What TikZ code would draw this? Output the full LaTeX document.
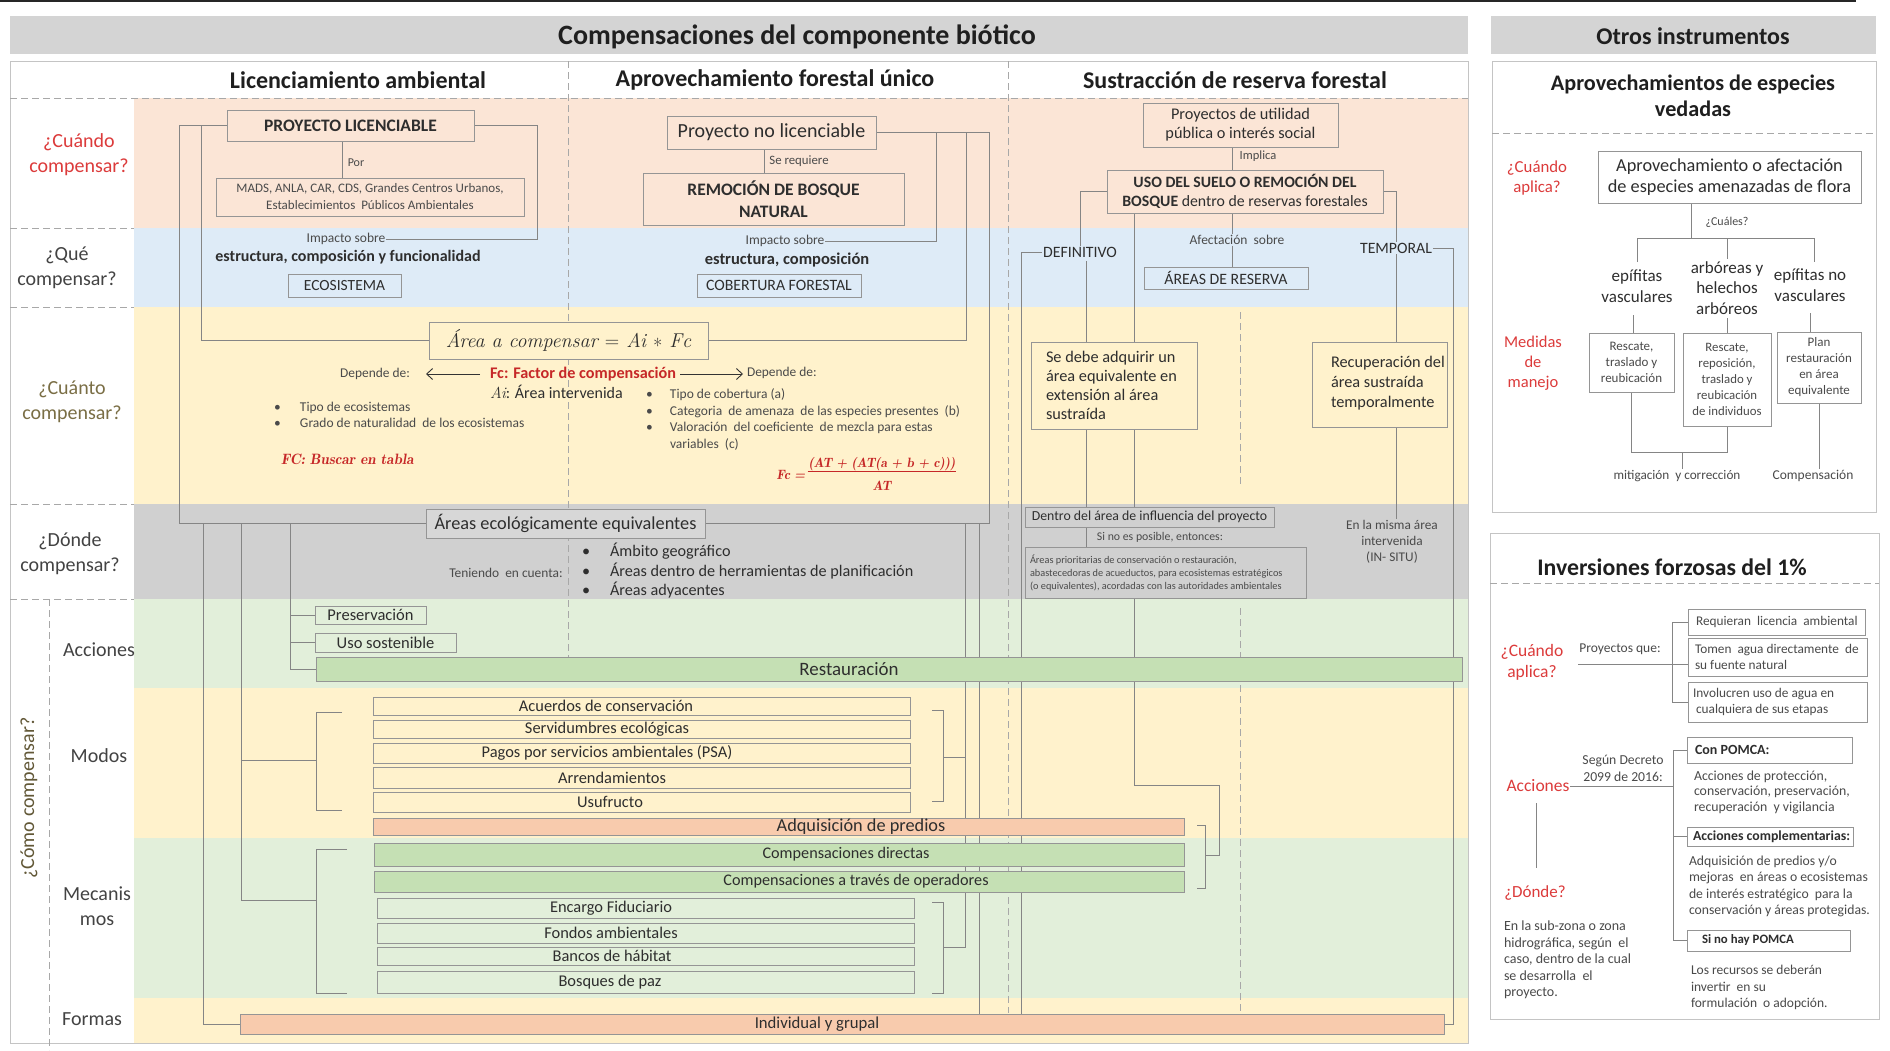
\documentclass[tikz,border=0pt]{standalone}
\usepackage{fontspec}
\setmainfont{Carlito}
\usetikzlibrary{arrows.meta}
\definecolor{peachbg}{HTML}{FBE5D6}
\definecolor{bluebg}{HTML}{DEEBF7}
\definecolor{yelbg}{HTML}{FFF2CC}
\definecolor{graybg}{HTML}{D0D0D0}
\definecolor{grnbg}{HTML}{E2EFDA}
\definecolor{grnbar}{HTML}{C5E0B4}
\definecolor{salbar}{HTML}{F8CBAD}
\definecolor{titlegray}{HTML}{D4D4D4}
\definecolor{boxline}{HTML}{959595}
\definecolor{linegray}{HTML}{858585}
\definecolor{dashgray}{HTML}{A8A8A8}
\definecolor{framec}{HTML}{C4C4C4}
\definecolor{redlbl}{HTML}{DC3B3B}
\definecolor{fcred}{HTML}{C62828}
\definecolor{olivelbl}{HTML}{7A6E45}
\definecolor{txtdk}{HTML}{2E2E2E}
\definecolor{txtmid}{HTML}{4A4A4A}
\pgfdeclarelayer{bands}
\pgfdeclarelayer{lines}
\pgfsetlayers{bands,lines,main}
\newcommand\fs[2]{\fontsize{#1}{#2}\selectfont}
\newcommand\bx[7][]{\node[bxs,minimum width={(#5-#3)*1pt},minimum height={(#6-#4)*1pt},#1] (#2) at ({(#3+#5)/2},{(#4+#6)/2}) {#7};}
\newcommand\bul[1]{\makebox[#1][l]{\textbullet}}
\newcommand\lmit{\fontfamily{lmr}\selectfont\itshape}
\begin{document}
\begin{tikzpicture}[x=1pt,y=-1pt,
  bxs/.style={draw=boxline,line width=0.7pt,inner sep=0pt,outer sep=0pt,align=center,text=txtdk},
  ln/.style={draw=linegray,line width=0.8pt},
  dsh/.style={draw=dashgray,line width=0.8pt,dash pattern=on 7pt off 4pt},
  tx/.style={inner sep=1pt,outer sep=0pt,align=center,text=txtdk},
  sm/.style={tx,font=\fs{13}{15},text=txtmid},
  rowl/.style={tx,font=\fs{20}{25},text=txtdk!90!white},
  hdr/.style={tx,font=\fs{24}{28}\bfseries,text=black!88},
  bartx/.style={tx,font=\fs{16.4}{19},text=txtdk},
  arr/.style={draw=black!80,line width=0.9pt,-{Straight Barb[length=6pt,width=11pt]}}
]
\useasboundingbox (0,0) rectangle (1890,1050);
\begin{pgfonlayer}{bands}
\fill[white] (0,0) rectangle (1890,1050);
\draw[black!85,line width=1.6pt] (0,1) -- (1856,1);
\fill[titlegray] (10,16) rectangle (1468,54);
\fill[titlegray] (1491,16) rectangle (1876,54);
\fill[peachbg] (134,98) rectangle (1468,228);
\fill[bluebg] (134,228) rectangle (1468,307);
\fill[yelbg] (134,307) rectangle (1468,504);
\fill[graybg] (134,504) rectangle (1468,599);
\fill[grnbg] (134,599) rectangle (1468,688);
\fill[yelbg] (134,688) rectangle (1468,838);
\fill[grnbg] (134,838) rectangle (1468,998);
\fill[yelbg] (134,998) rectangle (1468,1043);
\draw[framec,line width=0.8pt] (10,61) rectangle (1468,1043);
\draw[framec,line width=0.8pt] (1492,61) rectangle (1876,512);
\draw[framec,line width=0.8pt] (1490,533) rectangle (1879,1019);
\draw[dsh] (10,98) -- (1468,98);
\foreach \yy in {228,307,504,599} {\draw[dsh] (10,\yy) -- (134,\yy);}
\draw[dsh] (568,61) -- (568,657);
\draw[dsh] (1008,61) -- (1008,1013);
\draw[dsh] (49,599) -- (49,1050);
\draw[dsh] (1240,312) -- (1240,485);
\draw[dsh] (1240,608) -- (1240,1013);
\draw[dsh] (1492,133) -- (1876,133);
\draw[dsh] (1490,583) -- (1879,583);
\end{pgfonlayer}

% ---------- titles ----------
\node[hdr,font=\fs{28}{32}\bfseries] (title) at (797,37) {Compensaciones del componente biótico};
\node[hdr] (otros) at (1693,36) {Otros instrumentos};
\node[hdr] (h1) at (358,80) {Licenciamiento ambiental};
\node[hdr] (h2) at (775,80) {Aprovechamiento forestal único};
\node[hdr] (h3) at (1235,80) {Sustracción de reserva forestal};

% ---------- row labels ----------
\node[rowl,text=redlbl] (q1) at (79,155) {¿Cuándo\\compensar?};
\node[rowl] (q2) at (67,268) {¿Qué\\compensar?};
\node[rowl,text=olivelbl] (q3) at (72,402) {¿Cuánto\\compensar?};
\node[rowl] (q4) at (70,554) {¿Dónde\\compensar?};
\node[rowl,rotate=90,text=olivelbl!80!black] (q5) at (29,798) {¿Cómo compensar?};
\node[rowl] (r1) at (99,650) {Acciones};
\node[rowl] (r2) at (99,756) {Modos};
\node[rowl] (r3) at (97,906) {Mecanis\\mos};
\node[rowl] (r4) at (92,1019) {Formas};

% ---------- Licenciamiento ----------
\bx[fill=peachbg,font=\fs{17.5}{20}\bfseries]{plic}{227}{110}{474}{141}{PROYECTO LICENCIABLE}
\node[sm,font=\fs{12}{14}] (por) at (356,163) {Por};
\bx[fill=peachbg,font=\fs{13}{17},text=txtmid]{mads}{216}{178}{524}{216}{MADS, ANLA, CAR, CDS, Grandes Centros Urbanos,\\Establecimientos\ \ Públicos Ambientales}
\node[sm,font=\fs{13.5}{15}] (imp1) at (346,239) {Impacto sobre};
\node[tx,font=\fs{16}{18}\bfseries] (est1) at (348,257) {estructura, composición y funcionalidad};
\bx[fill=bluebg,font=\fs{15.5}{18}]{eco}{288}{274}{401}{297}{ECOSISTEMA}

% ---------- Aprovechamiento ----------
\bx[fill=peachbg,font=\fs{20}{23}]{pnl}{667}{116}{876}{149}{Proyecto no licenciable}
\node[sm,font=\fs{12.8}{15}] (sereq) at (799,161) {Se requiere};
\bx[fill=peachbg,font=\fs{17.5}{22}\bfseries]{rbn}{643}{173}{904}{225}{REMOCIÓN DE BOSQUE\\NATURAL}
\node[sm,font=\fs{13.5}{15}] (imp2) at (785,241) {Impacto sobre};
\node[tx,font=\fs{16.5}{18}\bfseries] (est2) at (787,260) {estructura, composición};
\bx[fill=bluebg,font=\fs{15.8}{18}]{cob}{697}{274}{861}{297}{COBERTURA FORESTAL}

% ---------- Sustraccion ----------
\bx[fill=peachbg,font=\fs{16.3}{19}]{pup}{1143}{103}{1338}{147}{Proyectos de utilidad\\pública o interés social}
\node[sm,font=\fs{12.5}{14}] (impl) at (1258,156) {Implica};
\bx[fill=peachbg,font=\fs{15.8}{19}]{uso}{1107}{170}{1383}{213}{\textbf{USO DEL SUELO O REMOCIÓN DEL}\\\textbf{BOSQUE} dentro de reservas forestales}
\node[tx,font=\fs{15.8}{18}] (def) at (1080,252) {DEFINITIVO};
\node[tx,font=\fs{15.8}{18}] (tem) at (1396,248) {TEMPORAL};
\node[sm,font=\fs{13.5}{15}] (afec) at (1237,240) {Afectación\ \ sobre};
\bx[fill=bluebg,font=\fs{15.8}{18}]{are}{1144}{267}{1308}{289}{ÁREAS DE RESERVA}
\bx[fill=yelbg]{sda}{1031}{342}{1197}{429}{}
\node[tx,anchor=west,align=left,font=\fs{16.3}{19}] (sdat) at (1045,385) {Se debe adquirir un\\área equivalente en\\extensión al área\\sustraída};
\bx[fill=yelbg]{rec}{1312}{342}{1447}{427}{}
\node[tx,anchor=west,align=left,font=\fs{16.3}{20}] (rect) at (1330,383) {Recuperación del\\área sustraída\\temporalmente};
\bx[fill=graybg,font=\fs{13.8}{15}]{dentro}{1025}{507}{1274}{527}{Dentro del área de influencia del proyecto}
\node[sm,font=\fs{11.8}{13}] (sino) at (1160,537) {Si no es posible, entonces:};
\bx[fill=graybg]{apr}{1025}{547}{1306}{598}{}
\node[tx,anchor=west,align=left,font=\fs{10.3}{13.3},text=txtmid] (aprt) at (1029,573) {Áreas prioritarias de conservación o restauración,\\abastecedoras de acueductos, para ecosistemas estratégicos\\(o equivalentes), acordadas con las autoridades ambientales};
\node[sm,font=\fs{13.3}{16}] (insitu) at (1392,542) {En la misma área\\intervenida\\(IN- SITU)};

% ---------- Cuanto ----------
\bx[fill=yelbg,font=\fs{20}{23}]{acomp}{429}{322}{708}{359}{{\lmit Área a compensar \upshape=\itshape{} Ai \upshape∗\itshape{} Fc}}
\node[sm,font=\fs{13.4}{15}] (dep1) at (375,374) {Depende de:};
\node[tx,anchor=west,font=\fs{16.2}{18}\bfseries,text=fcred] (fcf) at (489,374) {Fc: Factor de compensación};
\node[tx,anchor=west,font=\fs{16}{18}] (ait) at (489,392) {{\lmit Ai}: Área intervenida};
\node[sm,anchor=west,font=\fs{13.4}{15}] (dep2) at (746,373) {Depende de:};
\node[sm,anchor=west,align=left,font=\fs{13.5}{16}] (bl1) at (273,415) {\bul{26pt}Tipo de ecosistemas\\\bul{26pt}Grado de naturalidad\ \ de los ecosistemas};
\node[tx,anchor=west,text=fcred,font=\fs{15}{17}] (buscar) at (280,459) {\lmit\bfseries FC: Buscar en tabla};
\node[sm,anchor=west,align=left,font=\fs{13.5}{16.5}] (bl2) at (645,419.5) {\bul{24pt}Tipo de cobertura (a)\\\bul{24pt}Categoria\ \ de amenaza\ \ de las especies presentes\ \ (b)\\\bul{24pt}Valoración\ \ del coeficiente\ \ de mezcla para estas\\\makebox[24pt][l]{}variables\ \ (c)};
\node[tx,text=fcred,font=\fs{13.5}{16}\lmit\bfseries] (fnum) at (882,464) {(AT + (AT(a + b + c)))};
\node[tx,text=fcred,font=\fs{13.5}{16}\lmit\bfseries] (fden) at (882,486) {AT};
\node[tx,text=fcred,font=\fs{13.5}{16}\lmit\bfseries,anchor=east] (flhs) at (806,475) {Fc =};
\draw[fcred,line width=0.9pt] (fnum.south west) -- (fnum.south east);

% ---------- Donde ----------
\bx[fill=graybg!85!white,font=\fs{18.3}{21}]{aee}{426}{509}{705}{538}{Áreas ecológicamente equivalentes}
\node[sm,font=\fs{13.4}{15}] (ten) at (506,573) {Teniendo\ \ en cuenta:};
\node[tx,anchor=west,align=left,font=\fs{16.2}{19.5}] (bl3) at (581,571) {\bul{28pt}Ámbito geográfico\\\bul{28pt}Áreas dentro de herramientas de planificación\\\bul{28pt}Áreas adyacentes};

% ---------- Acciones ----------
\bx[fill=grnbg,font=\fs{16.5}{18}]{pres}{315}{606}{426}{624}{Preservación}
\bx[fill=grnbg,font=\fs{16.5}{18}]{usos}{315}{633}{456}{652}{Uso sostenible}
\bx[fill=grnbar]{rest}{316}{657}{1462}{681}{}
\node[bartx,font=\fs{18.9}{21}] (restt) at (849,669) {Restauración};

% ---------- Modos ----------
\bx[fill=yelbg]{m1}{373}{697}{910}{715}{}
\bx[fill=yelbg]{m2}{373}{720}{910}{738}{}
\bx[fill=yelbg]{m3}{373}{743}{910}{763}{}
\bx[fill=yelbg]{m4}{373}{767}{910}{788}{}
\bx[fill=yelbg]{m5}{373}{792}{910}{812}{}
\node[bartx] (m1t) at (606,706) {Acuerdos de conservación};
\node[bartx] (m2t) at (607,729) {Servidumbres ecológicas};
\node[bartx] (m3t) at (607,753) {Pagos por servicios ambientales (PSA)};
\node[bartx] (m4t) at (612,777.5) {Arrendamientos};
\node[bartx] (m5t) at (610,802) {Usufructo};
\bx[fill=salbar]{adq}{373}{818}{1184}{835}{}
\node[bartx,font=\fs{18.3}{20}] (adqt) at (861,826.5) {Adquisición de predios};

% ---------- Mecanismos ----------
\bx[fill=grnbar]{cd}{374}{843}{1184}{866}{}
\bx[fill=grnbar]{cto}{374}{871}{1184}{892}{}
\node[bartx,font=\fs{16.2}{19}] (cdt) at (846,854.5) {Compensaciones directas};
\node[bartx,font=\fs{16.2}{19}] (ctot) at (856,881.5) {Compensaciones a través de operadores};
\bx[fill=grnbg]{ef}{377}{898}{914}{918}{}
\bx[fill=grnbg]{fa}{377}{923}{914}{943}{}
\bx[fill=grnbg]{bh}{377}{947}{914}{965}{}
\bx[fill=grnbg]{bp}{377}{971}{914}{993}{}
\node[bartx] (eft) at (611,908) {Encargo Fiduciario};
\node[bartx] (fat) at (611,933) {Fondos ambientales};
\node[bartx] (bht) at (612,956) {Bancos de hábitat};
\node[bartx] (bpt) at (610,982) {Bosques de paz};

% ---------- Formas ----------
\bx[fill=salbar]{ind}{240}{1014}{1444}{1034}{}
\node[bartx,font=\fs{16.7}{19}] (indt) at (817,1024) {Individual y grupal};

% ---------- Panel 1 ----------
\node[hdr,font=\fs{22.2}{26}\bfseries] (p1t) at (1693,96) {Aprovechamientos de especies\\vedadas};
\node[tx,text=redlbl,font=\fs{16.8}{20}] (p1q) at (1537,178) {¿Cuándo\\aplica?};
\bx[fill=white,font=\fs{18.3}{21}]{ofl}{1598}{151}{1861}{203}{Aprovechamiento o afectación\\de especies amenazadas de flora}
\node[sm,font=\fs{12}{13}] (cual) at (1727,222) {¿Cuáles?};
\node[tx,font=\fs{17}{20.5}] (ev) at (1637,286) {epífitas\\vasculares};
\node[tx,font=\fs{17}{20.5}] (arb) at (1727,288) {arbóreas y\\helechos\\arbóreos};
\node[tx,font=\fs{17}{20.5}] (env) at (1810,285) {epífitas no\\vasculares};
\node[tx,text=redlbl,font=\fs{16.5}{20}] (med) at (1533,363) {Medidas\\de\\manejo};
\bx[fill=white,font=\fs{13}{16},text=txtmid]{b1}{1589}{333}{1674}{392}{Rescate,\\traslado y\\reubicación}
\bx[fill=white,font=\fs{12.8}{16},text=txtmid]{b2}{1683}{333}{1771}{426}{Rescate,\\reposición,\\traslado y\\reubicación\\de individuos}
\bx[fill=white,font=\fs{13}{16},text=txtmid]{b3}{1777}{332}{1861}{403}{Plan\\restauración\\en área\\equivalente}
\node[sm,font=\fs{13.2}{14}] (mit) at (1677,476) {mitigación\ \ y corrección};
\node[sm,font=\fs{13.5}{14}] (comp) at (1813,476) {Compensación};

% ---------- Panel 2 ----------
\node[hdr,font=\fs{23.8}{27}\bfseries] (p2t) at (1672,567) {Inversiones forzosas del 1\%};
\node[tx,text=redlbl,font=\fs{17.5}{21}] (p2q) at (1532,662) {¿Cuándo\\aplica?};
\node[sm,font=\fs{13.5}{15}] (pq) at (1620,649) {Proyectos que:};
\bx[fill=white]{ra}{1688}{609}{1865}{635}{}
\bx[fill=white]{tb}{1688}{638}{1867}{676}{}
\bx[fill=white]{ic}{1688}{682}{1867}{722}{}
\node[sm,anchor=west,align=left,font=\fs{13.3}{16}] (rat) at (1695,622) {Requieran\ \ licencia\ \ ambiental};
\node[sm,anchor=west,align=left,font=\fs{13.3}{16}] (tbt) at (1694,657) {Tomen\ \ agua directamente\ \ de\\su fuente natural};
\node[sm,anchor=west,align=left,font=\fs{13.3}{16}] (ict) at (1692,702) {Involucren uso de agua en\\\ cualquiera de sus etapas};
\node[tx,text=redlbl,font=\fs{17.5}{20}] (acc) at (1538,786) {Acciones};
\node[sm,font=\fs{13.7}{17}] (seg) at (1623,768) {Según Decreto\\2099 de 2016:};
\bx[fill=white]{cp}{1687}{737}{1852}{763}{}
\node[tx,anchor=west,font=\fs{14}{15}\bfseries] (cpt) at (1694,750) {Con POMCA:};
\node[sm,anchor=west,align=left,font=\fs{13.8}{15.6}] (cpd) at (1693,792) {Acciones de protección,\\conservación, preservación,\\recuperación\ \ y vigilancia};
\bx[fill=white]{ac}{1687}{827}{1853}{846}{}
\node[tx,anchor=west,font=\fs{13.8}{15}\bfseries] (act) at (1692,836.5) {Acciones complementarias:};
\node[sm,anchor=west,align=left,font=\fs{13.7}{16.3}] (acd) at (1688,886.5) {Adquisición de predios y/o\\mejoras\ \ en áreas o ecosistemas\\de interés estratégico\ \ para la\\conservación y áreas protegidas.};
\bx[fill=white]{sn}{1687}{930}{1850}{951}{}
\node[tx,anchor=west,font=\fs{12.8}{15}\bfseries] (snt) at (1701,940.5) {Si no hay POMCA};
\node[sm,anchor=west,align=left,font=\fs{13.5}{16.5}] (snd) at (1690,987.5) {Los recursos se deberán\\invertir\ \ en su\\formulación\ \ o adopción.};
\node[tx,text=redlbl,font=\fs{17}{20}] (donde) at (1535,893) {¿Dónde?};
\node[sm,anchor=west,align=left,font=\fs{14}{16.5}] (dt) at (1503,960) {En la sub-zona o zona\\hidrográfica, según\ \ el\\caso, dentro de la cual\\se desarrolla\ \ el\\proyecto.};

% ---------- connectors ----------
\begin{pgfonlayer}{lines}
\coordinate (L1) at (179,523.5);
\coordinate (L2) at (201,340.5);
\coordinate (L3) at (537,239);
\draw[ln] (plic.west) -| (L1) -- (aee.west);
\draw[ln] (plic.west) -| (L2) -- (acomp.west);
\draw[ln] (plic.east) -| (L3) -- (imp1.east);
\coordinate (P1) at (342,141);
\draw[ln] (P1) -- (P1 |- mads.north);
\coordinate (L4) at (203,523.5);
\coordinate (L5) at (241,523.5);
\coordinate (L6) at (290,523.5);
\coordinate (MoL) at (316,760);
\coordinate (MeL) at (316,900);
\draw[ln] (L4) |- (ind.west);
\draw[ln] (L5) |- (MeL);
\draw[ln] (L5 |- MoL) -- (MoL);
\draw[ln] (L6) |- (rest.west);
\draw[ln] (L6 |- pres.west) -- (pres.west);
\draw[ln] (L6 |- usos.west) -- (usos.west);
\draw[ln] (342,712) -- (316,712) -- (316,810) -- (342,810);
\draw[ln] (347,849) -- (316,849) -- (316,993) -- (347,993);
\coordinate (A1) at (989,523.5);
\coordinate (A2) at (966,340.5);
\coordinate (A3) at (936,241);
\draw[ln] (pnl.east) -| (A1) -- (aee.east);
\draw[ln] (pnl.east) -| (A2) -- (acomp.east);
\draw[ln] (pnl.east) -| (A3) -- (imp2.east);
\coordinate (P2) at (764,149);
\draw[ln] (P2) -- (P2 |- rbn.north);
\coordinate (A4) at (965,523.5);
\coordinate (A5) at (979,523.5);
\coordinate (MoR) at (943,757);
\coordinate (MeR) at (943,947);
\draw[ln] (A4) |- (MeR);
\draw[ln] (A4 |- MoR) -- (MoR);
\draw[ln] (A5) -- (A5 |- ind.north);
\draw[ln] (932,710) -- (943,710) -- (943,801) -- (932,801);
\draw[ln] (932,902) -- (943,902) -- (943,993) -- (932,993);
\coordinate (P3) at (1232,147);
\draw[ln] (P3) -- (P3 |- uso.north);
\draw[ln] (P3 |- uso.south) -- (P3 |- afec.north);
\draw[ln] (P3 |- afec.south) -- (P3 |- are.north);
\draw[ln] (uso.west) -| (def.north);
\draw[ln] (uso.east) -| (tem.north);
\coordinate (S1) at (1134,213);
\draw[ln] (S1) -- (S1 |- dentro.north);
\coordinate (S0) at (1086,261);
\draw[ln] (S0) -- (S0 |- dentro.north);
\draw[ln] (S0 |- dentro.south) -- (S0 |- apr.north);
\coordinate (S2) at (1021,252);
\draw[ln] (def.west) -- (S2) -- (S2 |- ind.north);
\coordinate (S3) at (1453,1024);
\draw[ln] (tem.east) -| (S3) -- (ind.east);
\draw[ln] (tem.south) -- (tem.south |- rec.north);
\draw[ln] (tem.south |- rec.south) -- (tem.south |- insitu.north);
\coordinate (S4) at (1134,598);
\coordinate (S5) at (1219,785);
\coordinate (SB) at (1205,855);
\draw[ln] (S4) |- (S5) |- (SB);
\draw[ln] (1197,825) -- (1205,825) -- (1205,888) -- (1197,888);
\coordinate (F1) at (480,374);
\coordinate (F2) at (426,374);
\coordinate (F3) at (680,374);
\coordinate (F4) at (743,374);
\draw[arr] (F1) -- (F2);
\draw[arr] (F3) -- (F4);
\coordinate (R1) at (1691,203);
\coordinate (R2) at (1691,238);
\draw[ln] (R1) -- (R2);
\draw[ln] (1637,262) -- (1637,238) -- (1814,238) -- (1814,262);
\draw[ln] (1727,238) -- (1727,259);
\draw[ln] (1633,315) -- (1633,333);
\draw[ln] (b2.north) -- ++(0,-15);
\draw[ln] (1810,313) -- (1810,332);
\draw[ln] (b1.south) -- ++(0,60) -| (b2.south);
\coordinate (R3) at (1682,452);
\draw[ln] (R3) -- (R3 |- mit.north);
\draw[ln] (b3.south) -- (b3.south |- comp.north);
\coordinate (Q1) at (1578,664);
\draw[ln] (Q1) -- (Q1 -| tb.west);
\coordinate (Q2) at (1672,702);
\draw[ln] (ra.west) -| (Q2) -- (ic.west);
\coordinate (Q3) at (1673,786);
\coordinate (Q6) at (1673,940.5);
\draw[ln] (acc.east) -- (Q3);
\draw[ln] (cp.west) -| (Q6) -- (sn.west);
\draw[ln] (ac.west) -- (ac.west -| Q3);
\coordinate (Q4) at (1536,803);
\coordinate (Q5) at (1536,868);
\draw[ln] (Q4) -- (Q5);
\end{pgfonlayer}
\end{tikzpicture}
\end{document}
